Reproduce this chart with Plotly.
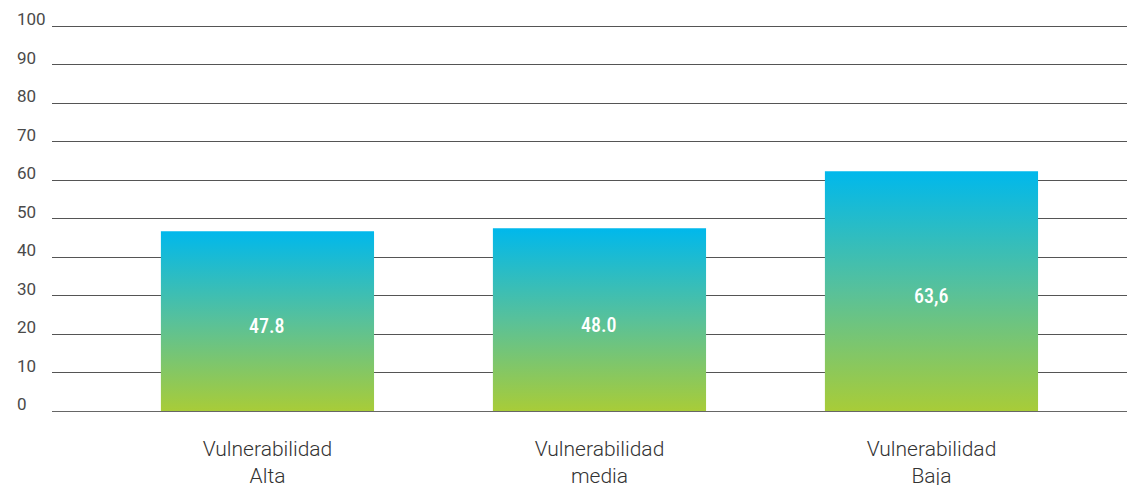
import plotly.graph_objects as go

categories = ["Vulnerabilidad<br>Alta", "Vulnerabilidad<br>media", "Vulnerabilidad<br>Baja"]
values = [46.7, 47.5, 62.3]
value_labels = ["47.8", "48.0", "63,6"]
y_ticks = [0, 10, 20, 30, 40, 50, 60, 70, 80, 90, 100]

GREEN = "#a8cc38"
CYAN = "#00b8ec"
HALF = 0.321

fig = go.Figure()

# bars as filled rectangles so they can take a vertical gradient
for i, v in enumerate(values):
    fig.add_trace(
        go.Scatter(
            x=[i - HALF, i + HALF, i + HALF, i - HALF, i - HALF],
            y=[0, 0, v, v, 0],
            mode="lines",
            line=dict(width=0),
            fill="toself",
            fillgradient=dict(type="vertical", colorscale=[[0, GREEN], [0.5, "#58c19a"], [1, CYAN]]),
            hoverinfo="skip",
            showlegend=False,
        )
    )
    fig.add_annotation(
        x=i,
        y=v / 2,
        yshift=-5,
        text=value_labels[i],
        showarrow=False,
        font=dict(family="Roboto Condensed, Roboto", size=20, color="white", weight=500),
    )

# y tick labels, left aligned above each grid line
for t in y_ticks:
    fig.add_annotation(
        xref="paper",
        x=0,
        xshift=-37,
        y=t,
        yshift=7,
        xanchor="left",
        yanchor="middle",
        text=str(t),
        showarrow=False,
        font=dict(family="Roboto", size=17, color="#4a4a4a"),
    )

# the page body has an 8px margin, so the margins here are offset by it
fig.update_layout(
    width=1135,
    height=485,
    margin=dict(l=44, r=8, t=16, b=82),
    plot_bgcolor="white",
    paper_bgcolor="white",
    xaxis=dict(
        range=[-0.649, 2.613],
        tickmode="array",
        tickvals=list(range(len(categories))),
        ticktext=categories,
        showgrid=False,
        zeroline=False,
        showline=False,
        ticks="",
        automargin=False,
        ticklabelstandoff=23,
        tickfont=dict(family="Roboto", size=21, color="#333333", weight=300),
    ),
    yaxis=dict(
        range=[0, 100.52],
        tickmode="array",
        tickvals=y_ticks,
        showticklabels=False,
        automargin=False,
        showgrid=True,
        gridcolor="#555555",
        gridwidth=1,
        zeroline=True,
        zerolinecolor="#666666",
        zerolinewidth=1,
    ),
)

fig.write_html("out.html")
